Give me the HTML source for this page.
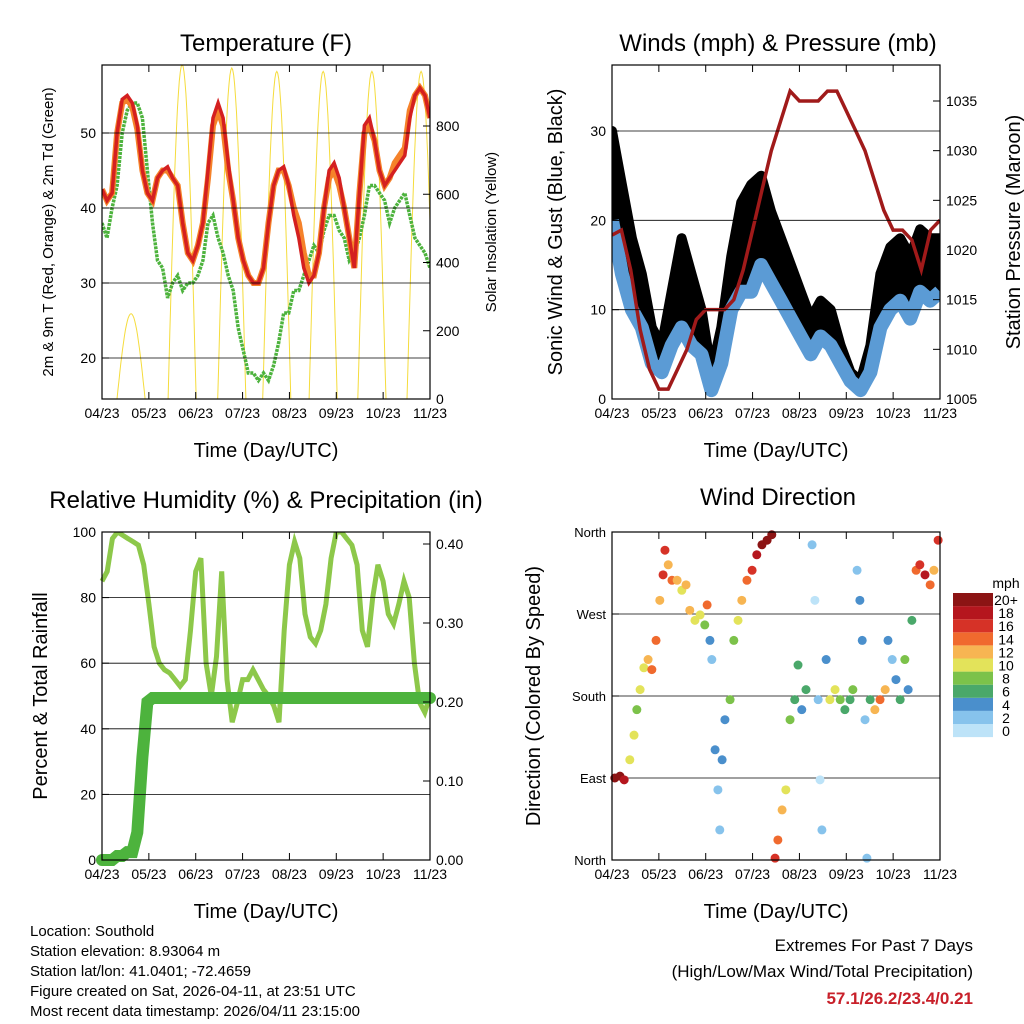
<!DOCTYPE html>
<html><head><meta charset="utf-8"><style>
body{margin:0;background:#fff;}
svg{display:block;font-family:"Liberation Sans",sans-serif;}
</style></head><body>
<svg id="c" width="1024" height="1024" viewBox="0 0 1024 1024"></svg>
<script>
// ---- data ----
const xTickLabels=["04/23","05/23","06/23","07/23","08/23","09/23","10/23","11/23"];
const tempRed=[42.5,41,42,50,54.5,55,54,51,45,42,41,44,45,45.5,44,43,38,34,33,35,38,45,52,54,52,46,41,36,33,31,30,30,32,38,43,45,45.5,43,39,36,32,30,31,34,40,45,46,44,40,36,32,42,51,52,49,45,43,44,45,46,47,52,55,56,55,52];
const tempOrange=[42.5,41,42,50,54,54.5,53.5,50.5,45,42,41,44,45,45,44,43,38,34,33,35,38,44,51,53,51,45,41,36,33,31,30,30,32,38,43,45,45,43,40,38,34,31,31,34,40,44,45,43,40,36,32,42,50,51,49,45,43,44,46,47,48,53,55,56,55,52];
const tempDew=[38,36,40,43,50,53,54,54,52,45,38,33,32,28,30,31,29,30,30,31,33,38,39,36,34,31,29,24,21,18,18,17,18,17,19,22,26,26,29,29,31,33,35,34,37,39,39,37,36,33,34,36,39,43,43,42,41,38,40,41,42,39,36,35,34,32];
const solarPeakDay=[0.62,1.71,2.77,3.73,4.72,5.76,6.81];
const solarPeakVal=[250,980,970,960,960,960,960];
const windSust=[20,14,10,8,4,3,6,8,6,5,1,4,10,12,12,15,13,11,9,7,5,7,6,4,2,1,3,8,10,11,9,12,11,12];
const windGust=[30,24,18,14,8,6,12,18,14,10,3,8,16,22,24,25,21,18,15,12,9,11,10,6,3,2,6,14,17,18,16,19,18,18];
const pressure=[1021.5,1022,1018,1012,1008,1006,1006,1008,1010,1013,1014,1014,1014,1015,1018,1022,1026,1030,1033,1036,1035,1035,1035,1036,1036,1034,1032,1030,1027,1024,1022,1022,1021,1018,1022,1023];
const rh=[85,88,98,100,99,98,97,96,90,78,65,60,58,57,55,53,55,70,88,92,60,50,62,88,55,42,48,55,55,58,55,52,50,47,42,70,90,97,92,75,68,66,70,78,92,100,100,98,96,90,70,65,80,90,85,75,72,78,85,80,60,48,45,50];
const precip=[0,0,0,0.005,0.005,0.01,0.01,0.035,0.13,0.2,0.205,0.205,0.205,0.205,0.205,0.205,0.205,0.205,0.205,0.205,0.205,0.205,0.205,0.205,0.205,0.205,0.205,0.205,0.205,0.205,0.205,0.205,0.205,0.205,0.205,0.205,0.205,0.205,0.205,0.205,0.205,0.205,0.205,0.205,0.205,0.205,0.205,0.205,0.205,0.205,0.205,0.205,0.205,0.205,0.205,0.205,0.205,0.205,0.205,0.205,0.205,0.205,0.205,0.205,0.205,0.205];
const dirDay=[0.06,0.17,0.26,0.38,0.47,0.53,0.60,0.68,0.77,0.85,0.94,1.02,1.09,1.13,1.20,1.28,1.39,1.49,1.58,1.66,1.77,1.88,1.98,2.03,2.09,2.13,2.20,2.26,2.30,2.35,2.41,2.52,2.60,2.69,2.77,2.88,2.99,3.09,3.20,3.31,3.41,3.48,3.54,3.63,3.71,3.80,3.90,3.97,4.05,4.14,4.27,4.33,4.40,4.44,4.48,4.57,4.65,4.76,4.87,4.97,5.08,5.14,5.23,5.29,5.34,5.40,5.44,5.51,5.61,5.72,5.83,5.89,5.98,6.06,6.15,6.25,6.32,6.40,6.49,6.57,6.68,6.79,6.87,6.96];
const dirDeg=[90,92,88,110,137,165,187,211,220,209,241,285,313,340,324,307,307,296,302,274,263,269,258,280,241,220,121,77,33,110,154,176,241,263,285,307,318,335,346,351,357,2,22,55,77,154,176,214,165,187,346,285,176,88,33,220,176,187,176,165,176,187,318,285,241,154,2,176,165,176,187,241,220,198,176,220,187,263,318,324,313,302,318,351];
const dirSpd=[20,20,18,10,10,8,10,10,12,14,14,12,16,16,12,14,12,10,12,12,10,10,8,14,4,2,4,2,2,4,4,8,8,10,12,14,16,18,20,20,20,16,14,12,10,8,6,6,4,6,2,0,2,0,2,4,10,10,8,6,6,8,2,4,4,2,2,6,12,14,12,4,2,4,6,8,4,6,14,16,18,14,12,16];
const spdColors=["#bde3f8","#87c3ec","#4a8fcc","#4aa86a","#7cc24a","#e3e35a","#f7b552","#f06a2e","#d63227","#b5161e","#8c1414"];
const spdLabels=["0","2","4","6","8","10","12","14","16","18","20+"];

const NS="http://www.w3.org/2000/svg";
const svg=document.getElementById('c');
function el(tag,attrs,parent,text){const e=document.createElementNS(NS,tag);for(const k in attrs)e.setAttribute(k,attrs[k]);if(text!==undefined)e.textContent=text;(parent||svg).appendChild(e);return e;}
function lin(d0,d1,r0,r1){return v=>r0+(v-d0)/(d1-d0)*(r1-r0);}

function panel(name){
  const g=el('g',{},svg);
  
  
  return g;
}
function frame(g,x0,y0,x1,y1){
  const r=el('rect',{x:x0,y:y0,width:x1-x0,height:y1-y0,fill:'none',stroke:'#000','stroke-width':1.2},g);
  
  
}
function xAxis(g,x0,x1,y0,y1){
  const xs=lin(0,7,x0,x1);
  xTickLabels.forEach((l,i)=>{
    const x=xs(i);
    el('line',{x1:x,x2:x,y1:y1,y2:y1-7,stroke:'#000'},g);
    el('line',{x1:x,x2:x,y1:y0,y2:y0+7,stroke:'#000'},g);
    const t=el('text',{x:x,y:y1+19,'font-size':14,'text-anchor':'middle'},g,l);
    
    
  });
  const t=el('text',{x:(x0+x1)/2,y:y1+58,'font-size':20,'text-anchor':'middle'},g,'Time (Day/UTC)');
  
  
  return xs;
}
function yTicks(g,scale,vals,labels,side,x0,x1,grid,fs){
  vals.forEach((v,i)=>{
    const y=scale(v);
    if(side==='left'){
      el('line',{x1:x0,x2:x0+7,y1:y,y2:y,stroke:'#000'},g);
      if(grid)el('line',{x1:x0,x2:x1,y1:y,y2:y,stroke:'#000','stroke-width':0.8},g);
      const t=el('text',{x:x0-6,y:y+5,'font-size':fs||14,'text-anchor':'end'},g,labels[i]);
      
      
    }else{
      el('line',{x1:x1,x2:x1-7,y1:y,y2:y,stroke:'#000'},g);
      const t=el('text',{x:x1+6,y:y+5,'font-size':fs||14,'text-anchor':'start'},g,labels[i]);
      
      
    }
  });
}
function title(g,x,y,s,name){const t=el('text',{x:x,y:y,'font-size':24,'text-anchor':'middle'},g,s);}
function vtitle(g,x,y,s,fs,name){const t=el('text',{x:x,y:y,'font-size':fs,'text-anchor':'middle',transform:`rotate(-90 ${x} ${y})`},g,s);}
function pathFrom(arr,xs,ys){return arr.map((v,i)=>(i?'L':'M')+xs(i/(arr.length-1)*7).toFixed(1)+','+ys(v).toFixed(1)).join('');}

// ---- Temperature panel ----
(function(){
  const x0=102,x1=430,y0=65,y1=399;
  const g=panel('temperature-panel');
  const xs=lin(0,7,x0,x1), ty=lin(20,50,358,133), sy=lin(0,800,399,126);
  const clip=el('clipPath',{id:'cp1'},g);el('rect',{x:x0,y:y0,width:x1-x0,height:y1-y0},clip);
  const d=el('g',{'clip-path':'url(#cp1)'},g);
  solarPeakDay.forEach((pd,i)=>{
    let s='';
    for(let k=0;k<=30;k++){const dd=pd-0.3+k*0.6/30;const v=solarPeakVal[i]*Math.sin(Math.PI*k/30);s+=(k?'L':'M')+xs(dd).toFixed(1)+','+sy(v).toFixed(1);}
    const p=el('path',{d:s,fill:'none',stroke:'#f5dc3c','stroke-width':1},d);
    
    
  });
  yTicks(g,ty,[20,30,40,50],["20","30","40","50"],'left',x0,x1,true);
  yTicks(g,sy,[0,200,400,600,800],["0","200","400","600","800"],'right',x0,x1,false);
  const pd=el('path',{d:pathFrom(tempDew,xs,ty),fill:'none',stroke:'#4db33d','stroke-width':3.5,'stroke-dasharray':'3 1'},d);
  
  const po=el('path',{d:pathFrom(tempOrange,xs,ty),fill:'none',stroke:'#f5822a','stroke-width':6},d);
  
  const pr=el('path',{d:pathFrom(tempRed,xs,ty),fill:'none',stroke:'#d42020','stroke-width':3.5},d);
  
  frame(g,x0,y0,x1,y1);
  xAxis(g,x0,x1,y0,y1);
  title(g,266,51,'Temperature (F)','temperature-title');
  vtitle(g,53,232,'2m & 9m T (Red, Orange) & 2m Td (Green)',15,'temperature-y-title');
  vtitle(g,496,232,'Solar Insolation (Yellow)',15,'solar-y-title');
})();

// ---- Wind panel ----
(function(){
  const x0=612,x1=940,y0=65,y1=399;
  const g=panel('wind-panel');
  const xs=lin(0,7,x0,x1), wy=lin(0,30,399,131), py=lin(1005,1035,399,101);
  const clip=el('clipPath',{id:'cp2'},g);el('rect',{x:x0,y:y0,width:x1-x0,height:y1-y0},clip);
  const d=el('g',{'clip-path':'url(#cp2)'},g);
  yTicks(g,wy,[0,10,20,30],["0","10","20","30"],'left',x0,x1,true);
  yTicks(g,py,[1005,1010,1015,1020,1025,1030,1035],["1005","1010","1015","1020","1025","1030","1035"],'right',x0,x1,false);
  // gust band between sustained and gust values
  let band='';
  windGust.forEach((v,i)=>{band+=(i?'L':'M')+xs(i/(windGust.length-1)*7).toFixed(1)+','+wy(v).toFixed(1);});
  for(let i=windSust.length-1;i>=0;i--){band+='L'+xs(i/(windSust.length-1)*7).toFixed(1)+','+wy(windSust[i]).toFixed(1);}
  const pb=el('path',{d:band+'Z',fill:'#000',stroke:'#000','stroke-width':10,'stroke-linejoin':'round'},d);
  
  const ps=el('path',{d:pathFrom(windSust,xs,wy),fill:'none',stroke:'#5b9bd5','stroke-width':14,'stroke-linejoin':'round'},d);
  
  const pp=el('path',{d:pathFrom(pressure,xs,py),fill:'none',stroke:'#a01a1a','stroke-width':3.5},d);
  
  frame(g,x0,y0,x1,y1);
  xAxis(g,x0,x1,y0,y1);
  title(g,778,51,'Winds (mph) & Pressure (mb)','winds-title');
  vtitle(g,562,232,'Sonic Wind & Gust (Blue, Black)',20,'wind-y-title');
  vtitle(g,1020,232,'Station Pressure (Maroon)',20,'pressure-y-title');
})();

// ---- RH panel ----
(function(){
  const x0=102,x1=430,y0=532,y1=860;
  const g=panel('humidity-panel');
  const xs=lin(0,7,x0,x1), hy=lin(0,100,860,532), ry=lin(0,0.4,860,544);
  const clip=el('clipPath',{id:'cp3'},g);el('rect',{x:x0-8,y:y0,width:x1-x0+16,height:y1-y0+8},clip);
  const d=el('g',{'clip-path':'url(#cp3)'},g);
  yTicks(g,hy,[0,20,40,60,80,100],["0","20","40","60","80","100"],'left',x0,x1,true);
  yTicks(g,ry,[0,0.1,0.2,0.3,0.4],["0.00","0.10","0.20","0.30","0.40"],'right',x0,x1,false);
  const ph=el('path',{d:pathFrom(rh,xs,hy),fill:'none',stroke:'#8dc84a','stroke-width':5},d);
  
  const pp=el('path',{d:pathFrom(precip,xs,ry),fill:'none',stroke:'#4db33d','stroke-width':12,'stroke-linecap':'round'},d);
  
  frame(g,x0,y0,x1,y1);
  xAxis(g,x0,x1,y0,y1);
  title(g,266,508,'Relative Humidity (%) & Precipitation (in)','humidity-title');
  vtitle(g,47,696,'Percent & Total Rainfall',20,'humidity-y-title');
})();

// ---- Wind direction panel ----
(function(){
  const x0=612,x1=940,y0=532,y1=860;
  const g=panel('wind-direction-panel');
  const xs=lin(0,7,x0,x1), dy=lin(0,360,860,532);
  yTicks(g,dy,[0,90,180,270,360],["North","East","South","West","North"],'left',x0,x1,true,13);
  function col(s){let i=Math.min(10,Math.floor(s/2));return spdColors[i];}
  dirDay.forEach((dd,i)=>{
    const c=el('circle',{cx:xs(dd),cy:dy(dirDeg[i]),r:4.5,fill:col(dirSpd[i])},g);
    
  });
  frame(g,x0,y0,x1,y1);
  xAxis(g,x0,x1,y0,y1);
  title(g,778,505,'Wind Direction','direction-title');
  vtitle(g,540,696,'Direction (Colored By Speed)',20,'direction-y-title');
  const lg=el('g',{},g);
  
  el('text',{x:1006,y:588,'font-size':14,'text-anchor':'middle'},lg,'mph');
  const n=spdColors.length;
  for(let i=0;i<n;i++){
    const y=593+(n-1-i)*13.1;
    const r=el('rect',{x:953,y:y,width:40,height:13.1,fill:spdColors[i]},lg);
    
    const t=el('text',{x:1006,y:y+12,'font-size':14,'text-anchor':'middle'},lg,spdLabels[i]);
    
  }
})();

// ---- footer ----
const info=["Location: Southold","Station elevation: 8.93064 m","Station lat/lon: 41.0401; -72.4659","Figure created on Sat, 2026-04-11, at 23:51 UTC","Most recent data timestamp: 2026/04/11 23:15:00"];
const fg=el('g',{},svg);
info.forEach((s,i)=>el('text',{x:30,y:936+i*20,'font-size':15},fg,s));
const eg=el('g',{},svg);
el('text',{x:973,y:951,'font-size':17,'text-anchor':'end'},eg,'Extremes For Past 7 Days');
el('text',{x:973,y:977,'font-size':17,'text-anchor':'end'},eg,'(High/Low/Max Wind/Total Precipitation)');
el('text',{x:973,y:1004,'font-size':17,'text-anchor':'end','font-weight':'bold',fill:'#c8202a'},eg,'57.1/26.2/23.4/0.21');
</script>
</body></html>
